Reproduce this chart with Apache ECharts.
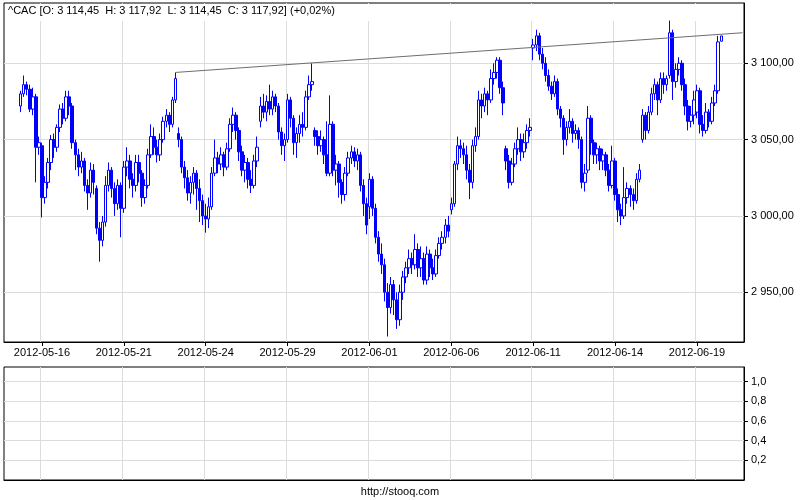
<!DOCTYPE html>
<html><head><meta charset="utf-8">
<script src="https://cdn.jsdelivr.net/npm/echarts@6/dist/echarts.min.js"></script>
<style>html,body{margin:0;padding:0;background:#fff}#c{width:800px;height:500px}</style>
</head><body><div id="c"></div>
<script>
// ---- data ----
const days = ['2012-05-15','2012-05-16','2012-05-17','2012-05-18','2012-05-21','2012-05-22','2012-05-23','2012-05-24','2012-05-25','2012-05-28','2012-05-29','2012-05-30','2012-05-31','2012-06-01','2012-06-04','2012-06-05','2012-06-06','2012-06-07','2012-06-08','2012-06-11','2012-06-12','2012-06-13','2012-06-14','2012-06-15','2012-06-18','2012-06-19'];
const hours = ['09:00','10:00','11:00','12:00','13:00','14:00','15:00','16:00','17:00'];
const firstDayBars = 7;
const tickDays = ['2012-05-16','2012-05-21','2012-05-24','2012-05-29','2012-06-01','2012-06-06','2012-06-11','2012-06-14','2012-06-19'];
const yTicks = [2950, 3000, 3050, 3100];
const lowerTicks = [0.2, 0.4, 0.6, 0.8, 1.0];

const opens = [
3072,3080,3086,3083,3070,3078,3045,
3046,3012,3022,3035,3050,3045,3058,3070,3064,
3078,3072,3048,3040,3032,3036,3020,3015,3030,
3018,2992,2984,2996,3020,3030,3018,3008,3020,
3005,3032,3036,3024,3020,3035,3028,3012,3020,
3040,3052,3045,3040,3050,3062,3066,3060,3076,
3054,3050,3032,3025,3015,3022,3028,3018,3010,
3000,2998,3006,3028,3038,3034,3040,3032,3044,
3060,3066,3056,3042,3030,3035,3024,3020,3036,
3062,3072,3068,3075,3070,3078,3072,3055,3046,
3050,3076,3064,3048,3054,3060,3058,3078,3086,
3056,3052,3046,3050,3040,3028,3060,3030,3034,
3022,3014,3028,3038,3042,3036,3040,3020,3008,
3006,3024,3005,2986,2975,2968,2950,2940,2955,
2945,2932,2950,2960,2966,2972,2968,2978,2966,
2972,2958,2975,2966,2962,2974,2982,2986,2994,
3004,3008,3034,3046,3044,3040,3030,3022,3046,
3052,3076,3072,3080,3076,3090,3094,3102,3084,
3044,3036,3022,3034,3044,3050,3042,3048,3056,
3110,3112,3118,3106,3100,3092,3085,3080,3088,
3070,3064,3050,3058,3062,3054,3056,3050,3022,
3030,3064,3048,3040,3044,3036,3040,3030,3020,
3036,3014,3004,3000,3012,3018,3014,3010,3024,
3050,3066,3056,3068,3080,3086,3076,3090,3086,
3092,3120,3088,3096,3100,3086,3072,3062,3066,
3068,3082,3060,3056,3068,3062,3074,3082,3114.45];
const closes = [
3080,3086,3083,3070,3078,3045,3048,
3012,3022,3035,3050,3045,3058,3070,3064,3078,
3072,3048,3040,3032,3036,3020,3015,3030,3022,
2992,2984,2996,3020,3030,3018,3008,3020,3005,
3032,3036,3024,3020,3035,3028,3012,3020,3040,
3052,3045,3040,3050,3062,3066,3060,3076,3090,
3050,3032,3025,3015,3022,3028,3018,3010,3000,
2998,3006,3028,3038,3034,3040,3032,3044,3060,
3066,3056,3042,3030,3035,3024,3020,3036,3045,
3072,3068,3075,3070,3078,3072,3055,3046,3050,
3076,3064,3048,3054,3060,3058,3078,3086,3088,
3052,3046,3050,3040,3028,3060,3030,3034,3022,
3014,3028,3038,3042,3036,3040,3020,3008,2994,
3024,3005,2986,2975,2968,2950,2940,2955,2945,
2932,2950,2960,2966,2972,2968,2978,2966,2972,
2958,2975,2966,2962,2974,2982,2986,2994,2990,
3008,3034,3046,3044,3040,3030,3022,3046,3052,
3076,3072,3080,3076,3090,3094,3102,3084,3074,
3036,3022,3034,3044,3050,3042,3048,3056,3058,
3112,3118,3106,3100,3092,3085,3080,3088,3070,
3064,3050,3058,3062,3054,3056,3050,3022,3028,
3064,3048,3040,3044,3036,3040,3030,3020,3036,
3014,3004,3000,3012,3018,3014,3010,3024,3030,
3066,3056,3068,3080,3086,3076,3090,3086,3090,
3120,3088,3096,3100,3086,3072,3062,3066,3076,
3082,3060,3056,3068,3062,3074,3082,3114,3117.92];
const lows = [
3068,3078,3079,3068,3066,3022,3040,
2999,3008,3018,3030,3038,3042,3055,3060,3062,
3066,3044,3030,3026,3028,3016,3004,3012,3014,
2988,2970,2980,2993,3016,3012,3000,3004,2986,
3002,3026,3018,3012,3016,3022,3006,3008,3018,
3038,3040,3035,3036,3048,3058,3055,3058,3074,
3045,3028,3018,3010,3008,3014,3004,2996,2994,
2989,2992,3004,3026,3028,3030,3026,3030,3042,
3055,3050,3036,3026,3022,3018,3015,3018,3032,
3058,3064,3062,3066,3066,3068,3050,3040,3036,
3048,3058,3040,3038,3048,3052,3056,3076,3082,
3046,3040,3042,3034,3026,3026,3026,3020,3012,
3008,3010,3026,3034,3032,3030,3016,3000,2988,
2998,3000,2982,2970,2962,2944,2921,2936,2935,
2926,2928,2945,2956,2962,2962,2965,2960,2960,
2955,2955,2960,2958,2960,2972,2978,2982,2986,
3001,3006,3030,3038,3034,3024,3011,3018,3042,
3050,3064,3068,3066,3074,3086,3090,3080,3066,
3030,3018,3020,3032,3040,3036,3038,3044,3052,
3102,3108,3102,3096,3088,3082,3076,3078,3066,
3058,3040,3046,3054,3048,3050,3044,3018,3016,
3028,3040,3034,3034,3030,3030,3026,3016,3018,
3010,2996,2994,2998,3008,3006,3004,3008,3022,
3048,3050,3054,3066,3076,3066,3074,3080,3082,
3090,3076,3084,3092,3082,3066,3056,3058,3060,
3064,3054,3052,3054,3058,3060,3072,3080,3114.45];
const highs = [
3082,3092,3088,3086,3084,3080,3052,
3048,3026,3038,3053,3054,3060,3073,3074,3082,
3082,3074,3050,3044,3042,3038,3024,3035,3034,
3020,2996,3000,3026,3035,3032,3022,3024,3022,
3036,3045,3040,3028,3040,3040,3030,3024,3044,
3060,3058,3050,3054,3065,3070,3068,3078,3094,
3058,3052,3036,3030,3026,3032,3030,3024,3014,
3008,3012,3032,3050,3042,3045,3042,3048,3064,
3071,3068,3058,3046,3040,3038,3030,3040,3052,
3078,3080,3079,3086,3082,3080,3074,3058,3054,
3080,3078,3066,3058,3066,3068,3082,3092,3100,
3058,3056,3056,3052,3062,3079,3062,3040,3036,
3024,3032,3042,3046,3045,3044,3042,3024,3012,
3028,3026,3008,2990,2982,2972,2956,2960,2958,
2950,2955,2964,2970,2978,2976,2988,2982,2980,
2976,2980,2978,2972,2978,2986,2990,2998,3000,
3012,3036,3052,3050,3048,3046,3034,3050,3058,
3082,3080,3084,3082,3096,3100,3104,3104,3088,
3046,3040,3038,3048,3058,3054,3054,3060,3064,
3116,3122,3120,3110,3104,3096,3088,3092,3090,
3072,3066,3062,3070,3064,3060,3058,3052,3034,
3072,3066,3050,3048,3046,3044,3042,3034,3046,
3038,3018,3008,3032,3022,3020,3018,3028,3034,
3070,3068,3072,3084,3090,3088,3094,3094,3092,
3128,3122,3100,3104,3102,3090,3076,3072,3082,
3086,3084,3066,3074,3070,3078,3086,3118,3117.92];
const trendFromBar = 51;
const trendFromValue = 3094;
const trendToValue = 3120;
const titleText = '^CAC [O: 3 114,45  H: 3 117,92  L: 3 114,45  C: 3 117,92] (+0,02%)';

// ---- build ----
const padLeft = 5, padRight = 7;
const cats = [];
for (let p = 0; p < padLeft; p++) cats.push('L' + p);
const barCats = [];
days.forEach((d, di) => {
  const hs = di === 0 ? hours.slice(hours.length - firstDayBars) : hours;
  hs.forEach(h => barCats.push(d + ' ' + h));
});
barCats.forEach(c => cats.push(c));
for (let p = 0; p < padRight; p++) cats.push('R' + p);

const tickIdx = new Set(tickDays.map(d => cats.indexOf(d + ' 09:00')));
const showTick = (i) => tickIdx.has(i);

const candleData = barCats.map((c, i) => [c, opens[i], closes[i], lows[i], highs[i]]);
const trendData = [[barCats[trendFromBar], trendFromValue], [cats[cats.length - 1], trendToValue]];

const FONT = '"Liberation Sans", Arial, sans-serif';
function fmtPrice(v) {
  const s = v.toFixed(2).split('.');
  return s[0].replace(/\B(?=(\d{3})+(?!\d))/g, ' ') + ',' + s[1];
}
const gridColor = '#dcdcdc';

const chart = echarts.init(document.getElementById('c'), null, {renderer: 'canvas'});
chart.setOption({
  animation: false,
  backgroundColor: '#fff',
  grid: [
    {left: 4, right: 56, top: 3, bottom: 158, show: true, borderColor: '#000', borderWidth: 1},
    {left: 4, right: 56, top: 367, bottom: 20, show: true, borderColor: '#000', borderWidth: 1}
  ],
  xAxis: [
    {type: 'category', gridIndex: 0, data: cats, boundaryGap: true,
     axisLine: {lineStyle: {color: '#000'}},
     axisTick: {show: true, alignWithLabel: true, interval: showTick, length: 4, lineStyle: {color: '#000'}},
     axisLabel: {interval: showTick, formatter: v => v.slice(0, 10), color: '#000', fontSize: 11, fontFamily: FONT, margin: 5},
     splitLine: {show: true, interval: showTick, lineStyle: {color: gridColor}}},
    {type: 'category', gridIndex: 1, data: cats, boundaryGap: true,
     axisLine: {lineStyle: {color: '#000'}},
     axisTick: {show: false, alignWithLabel: true, interval: showTick},
     axisLabel: {show: false},
     splitLine: {show: true, interval: showTick, lineStyle: {color: gridColor}}}
  ],
  yAxis: [
    {type: 'value', gridIndex: 0, position: 'right', min: 2917.4, max: 3139.5, scale: true,
     axisLine: {show: true, lineStyle: {color: '#000'}},
     axisTick: {show: true, length: 4, customValues: yTicks, lineStyle: {color: '#000'}},
     axisLabel: {customValues: yTicks, formatter: fmtPrice, color: '#000', fontSize: 11, fontFamily: FONT, margin: 7},
     splitLine: {show: true, lineStyle: {color: gridColor}}},
    {type: 'value', gridIndex: 1, position: 'right', min: 0, max: 1.15,
     axisLine: {show: true, lineStyle: {color: '#000'}},
     axisTick: {show: true, length: 4, customValues: lowerTicks, lineStyle: {color: '#000'}},
     axisLabel: {customValues: lowerTicks, formatter: v => v.toFixed(1).replace('.', ','), color: '#000', fontSize: 11, fontFamily: FONT, margin: 7},
     splitLine: {show: true, lineStyle: {color: gridColor}}}
  ],
  series: [
    {type: 'candlestick', xAxisIndex: 0, yAxisIndex: 0, data: candleData,
     encode: {x: 0, y: [1, 2, 3, 4]}, barWidth: 3, large: false, z: 3,
     itemStyle: {color: '#ffffff', color0: '#0000ff', borderColor: '#0000ff', borderColor0: '#0000ff', borderColorDoji: '#0000ff', borderWidth: 1}},
    {type: 'line', xAxisIndex: 0, yAxisIndex: 0, data: trendData, showSymbol: false, symbol: 'none', z: 4,
     lineStyle: {color: '#6e6e6e', width: 1}}
  ],
  graphic: [
    {type: 'rect', z: 1, shape: {x: 5, y: 4, width: 738, height: 17}, style: {fill: '#fff'}},
    {type: 'text', z: 10, x: 8, y: 11, style: {text: titleText, font: '11px ' + FONT, fill: '#000', verticalAlign: 'middle', textVerticalAlign: 'middle'}},
    {type: 'text', z: 10, x: 400, y: 492, style: {text: 'http://stooq.com', font: '11px ' + FONT, fill: '#000', align: 'center', verticalAlign: 'middle', textAlign: 'center', textVerticalAlign: 'middle'}}
  ]
});
</script></body></html>
